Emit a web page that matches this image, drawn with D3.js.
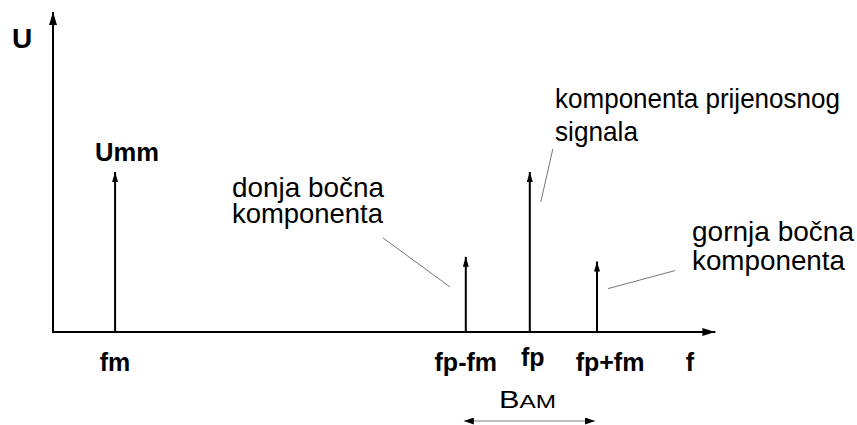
<!DOCTYPE html>
<html>
<head>
<meta charset="utf-8">
<script src="https://cdn.jsdelivr.net/npm/d3@7"></script>
<style>
  body { margin: 0; background: #fff; }
  svg text { font-family: "Liberation Sans", Arial, sans-serif; fill: #000; }
</style>
</head>
<body>
<svg id="chart" width="857" height="425"></svg>
<script>
// spectrum lines of the AM signal
var lineNames = ["fm", "fp-fm", "fp", "fp+fm"];
var lineFreq = [0.97, 6.45, 7.45, 8.5];
var lineAmp = [1.0, 0.47, 1.0, 0.44];
var axisLabels = ["U", "f"];
var notes = [
  ["donja bočna", "komponenta"],
  ["komponenta prijenosnog", "signala"],
  ["gornja bočna", "komponenta"]
];

var svg = d3.select("#chart");
var x0 = 53, y0 = 332;

var x = d3.scaleLinear().domain([0, 10]).range([x0, x0 + 640]);
var y = d3.scaleLinear().domain([0, 2]).range([y0, 12]);

var defs = svg.append("defs");
function arrowMarker(id, w, l) {
  defs.append("marker")
    .attr("id", id)
    .attr("viewBox", "0 0 " + l + " " + w)
    .attr("refX", l).attr("refY", w / 2)
    .attr("markerWidth", l).attr("markerHeight", w)
    .attr("markerUnits", "userSpaceOnUse")
    .attr("orient", "auto-start-reverse")
    .append("path")
    .attr("d", "M0,0 L" + l + "," + (w / 2) + " L0," + w + " Z")
    .attr("fill", "#000");
}
arrowMarker("axisArrow", 8, 13);
arrowMarker("spikeArrow", 6, 10);
arrowMarker("bamArrow", 7, 10);

// axes
svg.append("line")
  .attr("x1", x0).attr("y1", y0).attr("x2", x0).attr("y2", 12)
  .attr("stroke", "#000").attr("stroke-width", 2)
  .attr("marker-end", "url(#axisArrow)");
svg.append("line")
  .attr("x1", x0 - 1).attr("y1", y0).attr("x2", x(10.35)).attr("y2", y0)
  .attr("stroke", "#000").attr("stroke-width", 2)
  .attr("marker-end", "url(#axisArrow)");

// spikes
var spikes = lineNames.map(function (n, i) { return { name: n, f: lineFreq[i], a: lineAmp[i] }; });
svg.selectAll(".spike").data(spikes).enter().append("line")
  .attr("class", "spike")
  .attr("x1", function (d) { return x(d.f); }).attr("y1", y0)
  .attr("x2", function (d) { return x(d.f); }).attr("y2", function (d) { return y(d.a); })
  .attr("stroke", "#000").attr("stroke-width", 2)
  .attr("marker-end", "url(#spikeArrow)");

// tick labels under the axis
svg.selectAll(".tick").data(spikes).enter().append("text")
  .attr("class", "tick")
  .attr("x", function (d) { return x(d.f) + (d.name == "fp+fm" ? 13 : (d.name == "fp" ? 3 : 0)); })
  .attr("y", function (d) { return d.name == "fp" ? 366 : 371; })
  .attr("text-anchor", "middle")
  .attr("font-size", 25).attr("font-weight", "bold")
  .text(function (d) { return d.name; });

svg.append("text").attr("x", x(9.95)).attr("y", 371)
  .attr("text-anchor", "middle").attr("font-size", 25).attr("font-weight", "bold")
  .text(axisLabels[1]);
svg.append("text").attr("x", 12).attr("y", 48)
  .attr("font-size", 28).attr("font-weight", "bold")
  .text(axisLabels[0]);
svg.append("text").attr("x", x(lineFreq[0]) - 20).attr("y", 161)
  .attr("font-size", 25).attr("font-weight", "bold")
  .attr("textLength", 64).attr("lengthAdjust", "spacingAndGlyphs")
  .text("Umm");

// annotations with thin leader lines; each row stretched to the width seen in the picture
var notePos = [[232, 197, 26], [555, 108, 33], [692, 241, 29]];
var noteWidth = [[152, 151], [285, 83], [162, 153]];
notes.forEach(function (lines, i) {
  lines.forEach(function (s, j) {
    svg.append("text")
      .attr("x", notePos[i][0]).attr("y", notePos[i][1] + j * notePos[i][2])
      .attr("font-size", 27.5)
      .attr("textLength", noteWidth[i][j]).attr("lengthAdjust", "spacingAndGlyphs")
      .text(s);
  });
});

var leaders = [
  [x(lineFreq[1]) - 83, y(lineAmp[1]) - 19, x(lineFreq[1]) - 16, y(lineAmp[1]) + 30],
  [x(lineFreq[2]) + 23, y(lineAmp[2]) - 23, x(lineFreq[2]) + 11, y(lineAmp[2]) + 30],
  [x(lineFreq[3]) + 78, y(lineAmp[3]) + 9, x(lineFreq[3]) + 11, y(lineAmp[3]) + 27]
];
svg.selectAll(".leader").data(leaders).enter().append("line")
  .attr("x1", function (d) { return d[0]; }).attr("y1", function (d) { return d[1]; })
  .attr("x2", function (d) { return d[2]; }).attr("y2", function (d) { return d[3]; })
  .attr("stroke", "#666").attr("stroke-width", 0.9);

// bandwidth B_AM
var bamY = 421;
svg.append("line")
  .attr("x1", x(lineFreq[1]) - 2).attr("y1", bamY)
  .attr("x2", x(lineFreq[3]) - 2).attr("y2", bamY)
  .attr("stroke", "#aaa").attr("stroke-width", 1.5)
  .attr("marker-start", "url(#bamArrow)")
  .attr("marker-end", "url(#bamArrow)");
var bam = svg.append("text").attr("x", 499).attr("y", 408).attr("font-size", 24)
  .attr("textLength", 57).attr("lengthAdjust", "spacingAndGlyphs");
bam.append("tspan").text("B");
bam.append("tspan").attr("font-size", 19).text("AM");
</script>
</body>
</html>
